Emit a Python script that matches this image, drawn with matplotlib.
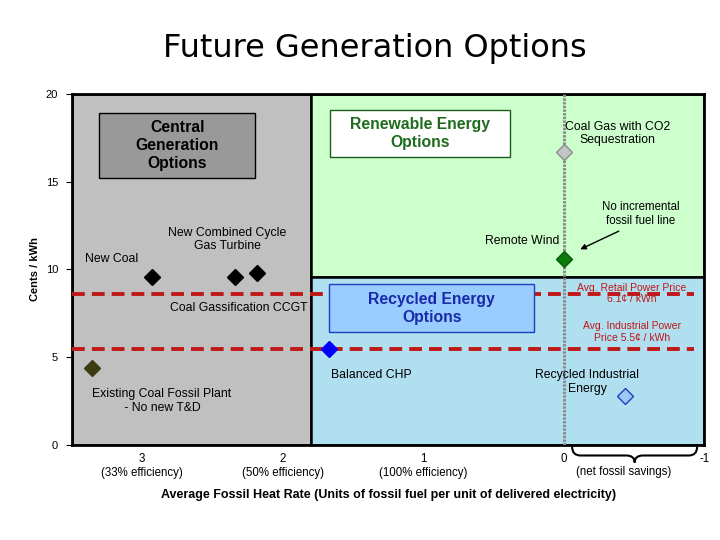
import matplotlib
matplotlib.use("Agg")
import matplotlib.pyplot as plt
from matplotlib.patches import Rectangle, PathPatch
from matplotlib.path import Path

plt.rcParams['font.family'] = ['Liberation Sans', 'DejaVu Sans']

# ---- data ----
point_names = ["Existing Coal", "New Coal", "CCGT 1", "CCGT 2", "Balanced CHP",
               "Remote Wind", "Coal Gas CO2", "Recycled Industrial"]
heat_rate = [3.36, 2.93, 2.34, 2.18, 1.668, 0.0, 0.0, -0.44]
cents_kwh = [4.39, 9.56, 9.56, 9.79, 5.45, 10.6, 16.67, 2.78]
face_colors = ["#3d3b12", "#000000", "#000000", "#000000", "#0000ff",
               "#0b7a0b", "#c4c4c4", "#9cc8f4"]
edge_colors = ["#3d3b12", "#000000", "#000000", "#000000", "#0000ff",
               "#0b5a0b", "#8c8c8c", "#1f3fbf"]
retail_price_line = 8.6
industrial_price_line = 5.45
x_ticks = [3, 2, 1, 0, -1]
x_tick_labels = ["3\n(33% efficiency)", "2\n(50% efficiency)", "1\n(100% efficiency)", "0", "-1"]
y_ticks = [0, 5, 10, 15, 20]

fig = plt.figure(figsize=(7.2, 5.4), dpi=100)
ax = fig.add_axes([0.1, 0.176, 0.878, 0.65])
ax.set_xlim(3.5, -1.0)
ax.set_ylim(0, 20)

# regions
ax.add_patch(Rectangle((1.8, 0), 1.7, 20, facecolor="#c0c0c0", edgecolor="black", lw=1.8, zorder=0))
ax.add_patch(Rectangle((-1.0, 9.55), 2.8, 10.45, facecolor="#ccffcc", edgecolor="black", lw=1.8, zorder=0))
ax.add_patch(Rectangle((-1.0, 0), 2.8, 9.55, facecolor="#b0dff0", edgecolor="black", lw=1.8, zorder=0))

# text boxes
ax.add_patch(Rectangle((2.198, 15.21), 1.109, 3.73, facecolor="#999999", edgecolor="black", lw=1, zorder=2))
ax.text(2.75, 17.07, "Central\nGeneration\nOptions", ha="center", va="center", fontsize=11.3,
        fontweight="bold", linespacing=1.25, zorder=3)
ax.add_patch(Rectangle((0.38, 16.42), 1.283, 2.65, facecolor="white", edgecolor="#1a5e1a", lw=1, zorder=2))
ax.text(1.02, 17.75, "Renewable Energy\nOptions", ha="center", va="center", fontsize=11.3,
        fontweight="bold", color="#1e6b1e", linespacing=1.25, zorder=3)
ax.add_patch(Rectangle((0.214, 6.44), 1.454, 2.71, facecolor="#99ccff", edgecolor="#1f3fbf", lw=1, zorder=4))
ax.text(0.94, 7.8, "Recycled Energy\nOptions", ha="center", va="center", fontsize=11.3,
        fontweight="bold", color="#1a2aa8", linespacing=1.25, zorder=5)

# price lines
red = "#c01818"
ax.plot([3.5, -0.93], [retail_price_line] * 2, color=red, lw=2.8, dashes=(3.3, 1.8), zorder=3)
ax.plot([3.5, -0.93], [industrial_price_line] * 2, color=red, lw=2.8, dashes=(3.3, 1.8), zorder=3)
ax.text(-0.485, 8.62, "Avg. Retail Power Price\n6.1¢ / kWh", ha="center", va="center", fontsize=7.5,
        color=red, linespacing=1.2, zorder=5)
ax.text(-0.485, 6.42, "Avg. Industrial Power\nPrice 5.5¢ / kWh", ha="center", va="center", fontsize=7.5,
        color=red, linespacing=1.3, zorder=5)

# no incremental fossil fuel line
ax.axvline(0, color="#8c8c8c", lw=2.2, dashes=(0.8, 0.4), zorder=3)

# points
for x, y, fc, ec in zip(heat_rate, cents_kwh, face_colors, edge_colors):
    ax.plot(x, y, marker="D", ms=8, markerfacecolor=fc, markeredgecolor=ec, mew=1, ls="none", zorder=6)

# labels
lab = dict(fontsize=8.8, zorder=6)
ax.text(3.22, 10.57, "New Coal", ha="center", va="center", **lab)
ax.text(2.395, 11.7, "New Combined Cycle\nGas Turbine", ha="center", va="center", linespacing=1.15, **lab)
ax.text(1.825, 7.8, "Coal Gassification CCGT", ha="right", va="center", **lab)
ax.text(2.865, 2.5, "Existing Coal Fossil Plant\n - No new T&D", ha="center", va="center", linespacing=1.3, **lab)
ax.text(1.656, 3.98, "Balanced CHP", ha="left", va="center", **lab)
ax.text(-0.167, 3.58, "Recycled Industrial\nEnergy", ha="center", va="center", linespacing=1.3, **lab)
ax.text(0.03, 11.6, "Remote Wind", ha="right", va="center", **lab)
ax.text(-0.385, 17.73, "Coal Gas with CO2\nSequestration", ha="center", va="center", linespacing=1.15, **lab)
ax.text(-0.55, 13.18, "No incremental\nfossil fuel line", ha="center", va="center", fontsize=8.3,
        linespacing=1.2, zorder=6)
ax.annotate("", xy=(-0.10, 11.08), xytext=(-0.41, 12.25),
            arrowprops=dict(arrowstyle="-|>", color="black", lw=1, mutation_scale=8), zorder=6)

# axes styling
for s in ax.spines.values():
    s.set_linewidth(2)
ax.set_yticks(y_ticks)
ax.tick_params(axis="y", length=4, width=0.8, labelsize=8, pad=6)
ax.set_xticks(x_ticks)
ax.set_xticklabels(x_tick_labels)
ax.tick_params(axis="x", length=0, labelsize=8.3, pad=5.5)
for t in ax.get_xticklabels():
    t.set_linespacing(1.25)

# brace under net fossil savings
bx0, bx1, bm = -0.06, -0.95, -0.505
yt, ym, yb = -0.1, -0.6, -1.0
verts = [(bx0, yt), (bx0, ym), (bx0 - 0.06, ym), (bm + 0.06, ym), (bm, ym), (bm, yb),
         (bm, ym), (bm - 0.06, ym), (bx1 + 0.06, ym), (bx1, ym), (bx1, yt)]
codes = [Path.MOVETO, Path.CURVE3, Path.CURVE3, Path.LINETO, Path.CURVE3, Path.CURVE3,
         Path.CURVE3, Path.CURVE3, Path.LINETO, Path.CURVE3, Path.CURVE3]
ax.add_patch(PathPatch(Path(verts, codes), facecolor="none", edgecolor="black", lw=1.5, clip_on=False))
ax.text(-0.43, -1.2, "(net fossil savings)", ha="center", va="top", fontsize=8.3)

ax.set_ylabel("Cents / kWh", fontsize=8, fontweight="bold", labelpad=4)
ax.set_xlabel("Average Fossil Heat Rate (Units of fossil fuel per unit of delivered electricity)",
              fontsize=9, fontweight="bold", family=['Liberation Sans Narrow', 'Liberation Sans'], labelpad=7)
fig.text(0.52, 0.91, "Future Generation Options", ha="center", va="center", fontsize=23,
         family=['DejaVu Sans'])

fig.savefig("out.png", dpi=100)
